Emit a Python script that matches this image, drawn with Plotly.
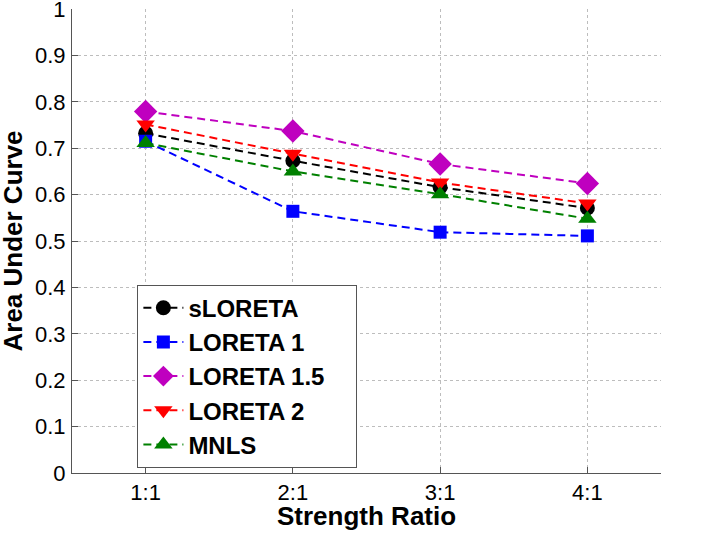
import plotly.graph_objects as go

categories = ["1:1", "2:1", "3:1", "4:1"]
x_pos = [1, 2, 3, 4]
y_ticks = [0, 0.1, 0.2, 0.3, 0.4, 0.5, 0.6, 0.7, 0.8, 0.9, 1]
y_tick_labels = ["0", "0.1", "0.2", "0.3", "0.4", "0.5", "0.6", "0.7", "0.8", "0.9", "1"]

sloreta = [0.732, 0.673, 0.616, 0.571]
loreta1 = [0.715, 0.564, 0.519, 0.511]
loreta15 = [0.779, 0.737, 0.666, 0.624]
loreta2 = [0.751, 0.688, 0.626, 0.581]
mnls = [0.711, 0.650, 0.601, 0.548]

NBSP = "\u00a0"
series = [
    ("sLORETA", sloreta, "black", "circle", 15),
    ("LORETA 1", loreta1, "#0000ff", "square", 13),
    ("LORETA 1.5" + NBSP * 4, loreta15, "#bf00bf", "diamond", 18),
    ("LORETA 2", loreta2, "#ff0000", "triangle-down", 16),
    ("MNLS", mnls, "#008000", "triangle-up", 16),
]

fig = go.Figure()
for name, vals, color, sym, sz in series:
    fig.add_trace(go.Scatter(
        x=x_pos, y=vals, name=name, mode="lines+markers",
        line=dict(color=color, width=2, dash="8px,5px"),
        marker=dict(symbol=sym, size=sz, color=color, line=dict(width=0)),
    ))

font_family = "Liberation Sans, Arial, Helvetica, sans-serif"
axis_common = dict(
    ticks="inside", ticklen=6, tickcolor="#555555",
    showline=True, linecolor="#555555", linewidth=1, mirror=False,
    showgrid=True, gridcolor="#bdbdbd", griddash="dot", gridwidth=1,
    zeroline=False, automargin=False, ticklabeloverflow="allow",
    tickfont=dict(size=22, color="black"),
)
fig.update_layout(
    width=728, height=533,
    margin=dict(l=72, r=67, t=9, b=60),
    paper_bgcolor="white", plot_bgcolor="white",
    font=dict(family=font_family, size=22, color="black"),
    showlegend=True,
    legend=dict(
        x=0.111, y=0.406, xanchor="left", yanchor="top",
        bgcolor="white", bordercolor="#555555", borderwidth=1,
        font=dict(family=font_family, size=24, color="black", weight="bold"),
        tracegroupgap=0, itemwidth=40,
    ),
    xaxis=dict(
        range=[0.5, 4.5],
        tickvals=x_pos + [4.5], ticktext=categories + [""],
        ticklabelstandoff=0,
        **axis_common,
    ),
    yaxis=dict(
        range=[0, 1],
        tickvals=y_ticks, ticktext=y_tick_labels,
        ticklabelstandoff=1,
        **axis_common,
    ),
    annotations=[
        dict(text="<b>Strength Ratio</b>", xref="paper", yref="paper",
             x=0.5, y=-0.092, xanchor="center", yanchor="middle",
             showarrow=False, font=dict(size=26, family=font_family)),
        dict(text="<b>Area Under Curve</b>", xref="paper", yref="paper",
             x=-0.101, y=0.5, xanchor="center", yanchor="middle", textangle=-90,
             showarrow=False, font=dict(size=26, family=font_family)),
    ],
)

fig.write_html("out.html", config={"displayModeBar": False},
               post_script="document.body.style.margin='0';")
